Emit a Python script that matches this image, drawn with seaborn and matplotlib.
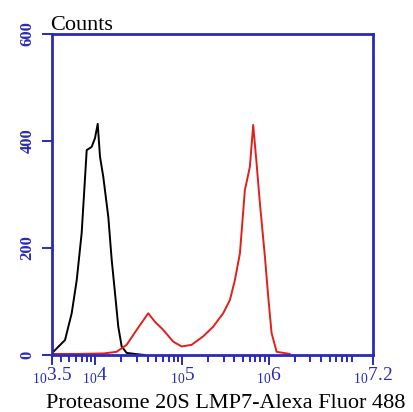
import numpy as np
import pandas as pd
import seaborn as sns
from matplotlib import pyplot as plt
from matplotlib.ticker import FixedLocator, LogLocator, NullFormatter

# log10 fluorescence positions and counts
black_log = [3.50, 3.515, 3.65, 3.727, 3.785, 3.842, 3.90, 3.957, 3.995, 4.027,
             4.053, 4.091, 4.149, 4.188, 4.226, 4.264, 4.303, 4.36, 4.456, 4.571]
black_counts = [0, 6, 28, 78, 140, 228, 383, 389, 405, 432,
                371, 333, 258, 178, 116, 53, 16, 4, 2, 0]

red_log = [3.50, 3.80, 4.10, 4.245, 4.36, 4.476, 4.609, 4.687, 4.782, 4.897,
           4.994, 5.109, 5.243, 5.358, 5.473, 5.551, 5.608, 5.666, 5.723, 5.781,
           5.819, 5.858, 5.896, 5.954, 5.992, 6.031, 6.089, 6.242]
red_counts = [2, 2, 3, 6, 19, 47, 78, 62, 47, 25,
              16, 19, 35, 53, 78, 103, 140, 190, 308, 352,
              430, 358, 284, 184, 109, 41, 6, 2]

x_major = [3.5, 4, 5, 6, 7.2]
x_labels = ['3.5', '4', '5', '6', '7.2']
y_ticks = [0, 200, 400, 600]

blue = '#2a2ab8'

sns.set_style('white')
plt.rcParams['font.family'] = ['Liberation Serif', 'DejaVu Serif']
plt.rcParams['mathtext.fontset'] = 'custom'
plt.rcParams['mathtext.rm'] = 'Liberation Serif'
plt.rcParams['xtick.bottom'] = True
plt.rcParams['ytick.left'] = True

fig = plt.figure(figsize=(4.14, 4.12), dpi=100)
ax = fig.add_axes([0.1256, 0.1383, 0.7754, 0.7792])

df_black = pd.DataFrame({'x': np.power(10.0, black_log), 'y': black_counts})
df_red = pd.DataFrame({'x': np.power(10.0, red_log), 'y': red_counts})

sns.lineplot(data=df_black, x='x', y='y', color='black', linewidth=1.4, ax=ax)
sns.lineplot(data=df_red, x='x', y='y', color='#e0201c', linewidth=1.4, ax=ax)

ax.set_xscale('log')
ax.set_xlim(10 ** 3.5, 10 ** 7.2)
ax.set_ylim(0, 600)

for s in ax.spines.values():
    s.set_color(blue)
    s.set_linewidth(2)

ax.xaxis.set_major_locator(FixedLocator([10 ** v for v in x_major]))
ax.xaxis.set_minor_locator(LogLocator(base=10, subs=np.arange(2, 10)))
ax.xaxis.set_minor_formatter(NullFormatter())
ax.set_xticklabels([r'$_{10}$' + l for l in x_labels])
ax.tick_params(axis='x', which='major', direction='out', length=7, width=1.4,
               color=blue, labelcolor=blue, labelsize=14, pad=1)
ax.tick_params(axis='x', which='minor', direction='out', length=5, width=1.4,
               color=blue)

ax.set_yticks(y_ticks)
ax.set_yticklabels([str(v) for v in y_ticks], rotation=90, va='center',
                   fontweight='bold')
ax.tick_params(axis='y', which='major', direction='out', length=7, width=1.4,
               color=blue, labelcolor=blue, labelsize=12, pad=5)

ax.set_xlabel('')
ax.set_ylabel('')
fig.text(0.545, 0.02, 'Proteasome 20S LMP7-Alexa Fluor 488', fontsize=16,
         color='black', ha='center', va='center')
fig.text(0.12, 0.928, 'Counts', fontsize=16, color='black')

fig.savefig('out.png', dpi=100, facecolor='white')
